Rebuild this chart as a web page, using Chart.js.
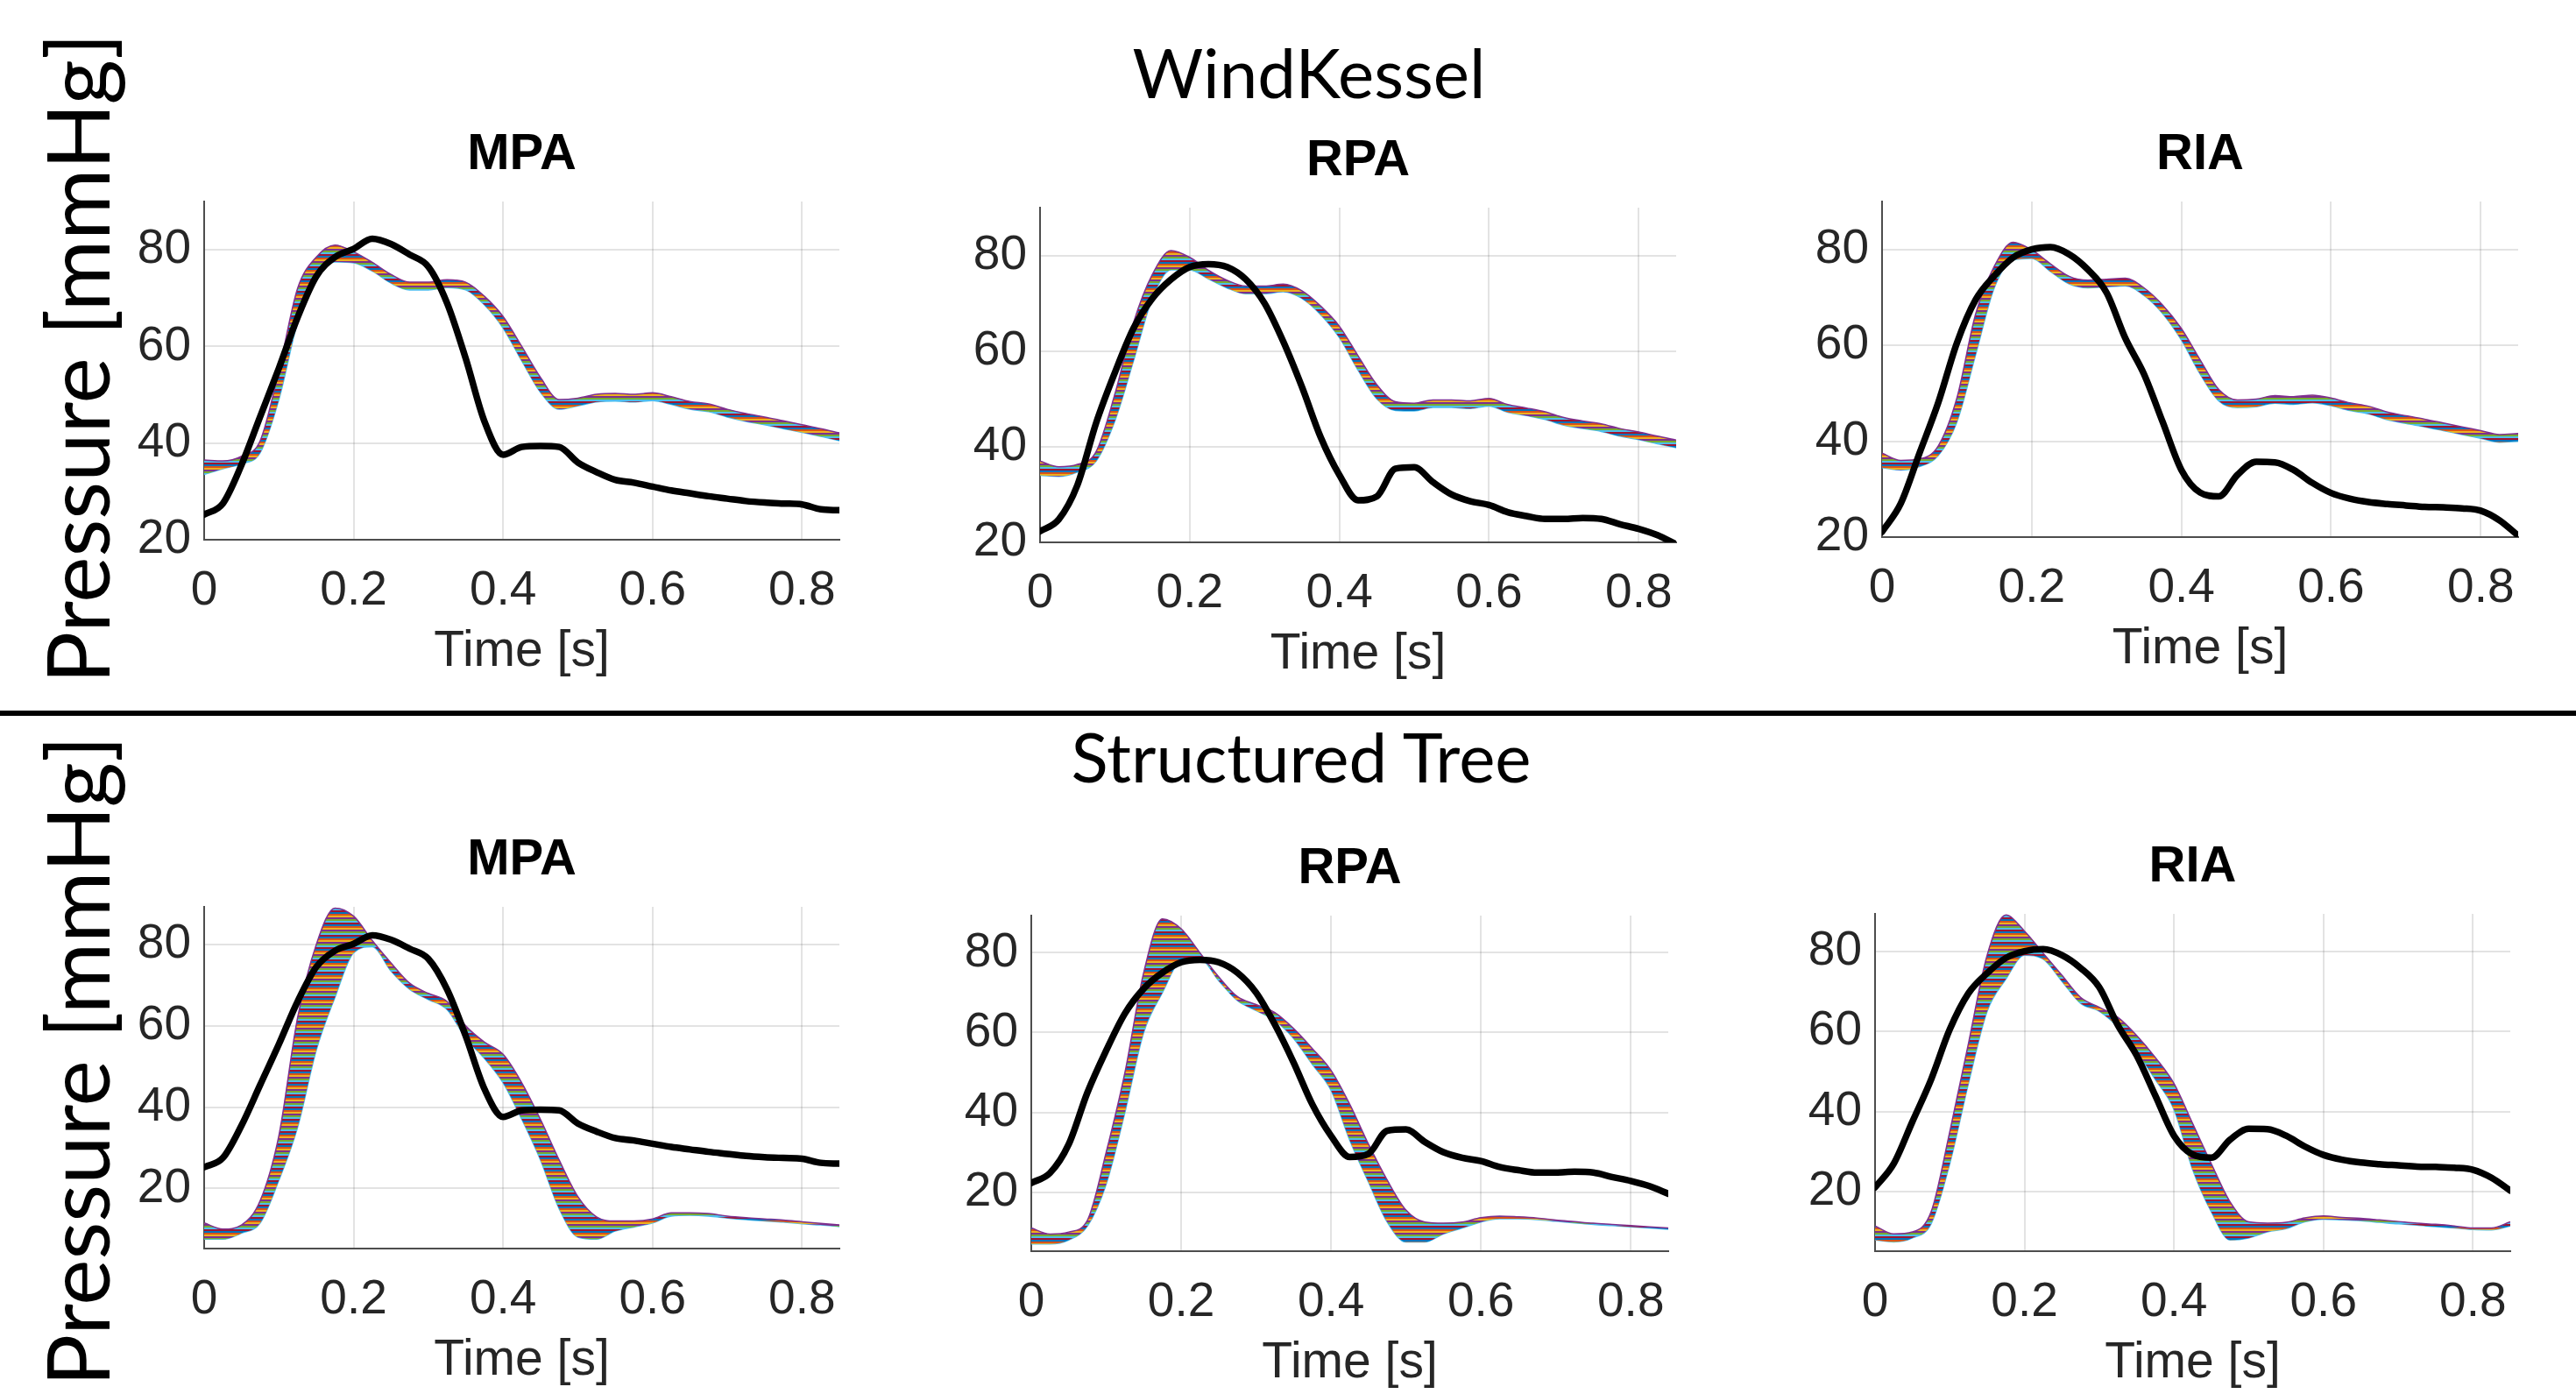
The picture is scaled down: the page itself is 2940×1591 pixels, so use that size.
<!DOCTYPE html>
<html>
<head>
<meta charset="utf-8">
<script src="https://cdn.jsdelivr.net/npm/chart.js@4.4.1/dist/chart.umd.min.js"></script>
<style>
  html, body { margin: 0; padding: 0; background: #fff; }
  body { width: 2940px; height: 1591px; position: relative; overflow: hidden; }
  canvas { position: absolute; }
  .lbl { position: absolute; font-family: Lato, "Open Sans", sans-serif; color: #000; line-height: 1; white-space: nowrap; }
</style>
</head>
<body>
<div class="lbl" style="left:1494px; top:82px; font-size:78px; transform:translate(-50%,-50%)">WindKessel</div>
<div class="lbl" style="left:1485px; top:863px; font-size:78px; transform:translate(-50%,-50%)">Structured Tree</div>
<div class="lbl" style="left:86px; top:409px; font-size:99px; transform:translate(-50%,-50%) rotate(-90deg)">Pressure [mmHg]</div>
<div class="lbl" style="left:86px; top:1211px; font-size:99px; transform:translate(-50%,-50%) rotate(-90deg)">Pressure [mmHg]</div>
<div style="position:absolute; left:0; top:811px; width:2940px; height:6px; background:#000"></div>

<canvas id="c0"></canvas>
<canvas id="c1"></canvas>
<canvas id="c2"></canvas>
<canvas id="c3"></canvas>
<canvas id="c4"></canvas>
<canvas id="c5"></canvas>

<script>
// time grid [s]
var TIME = [0, 0.025, 0.05, 0.075, 0.1, 0.125, 0.15, 0.175, 0.2, 0.225, 0.25, 0.275, 0.3, 0.325, 0.35,
            0.375, 0.4, 0.425, 0.45, 0.475, 0.5, 0.525, 0.55, 0.575, 0.6, 0.625, 0.65, 0.675, 0.7,
            0.725, 0.75, 0.775, 0.8, 0.825, 0.85];

var X_TICKS = [0, 0.2, 0.4, 0.6, 0.8];
var X_LABELS = ['0', '0.2', '0.4', '0.6', '0.8'];
var Y_TICKS = [20, 40, 60, 80];
var Y_LABELS = ['20', '40', '60', '80'];

// measured pressure (black)
var MPA_DATA = [25.2, 27.5, 35.5, 45.5, 55.5, 66, 74.5, 78.5, 80.2, 82.3, 81.2, 79, 76.5, 69, 57.5,
                44.5, 37.6, 39.2, 39.4, 39.2, 36, 34, 32.4, 31.8, 31, 30.2, 29.6, 29, 28.5,
                28, 27.7, 27.5, 27.3, 26.3, 26.1];
var RPA_DATA = [22.3, 24.8, 32, 45, 55.5, 64.8, 71, 75, 77.6, 78.2, 77.6, 75, 70, 62, 52.5,
                42, 34.1, 28.8, 29.6, 35.4, 35.7, 32.6, 30, 28.6, 27.8, 26.3, 25.5, 24.9, 24.9,
                25.1, 24.9, 23.8, 22.8, 21.5, 19.6];
var RIA_DATA = [21.1, 27, 37.5, 48, 60.5, 69.5, 74.5, 78.3, 80, 80.5, 79, 75.8, 71, 61.5, 54,
                44, 34, 29.3, 28.5, 33, 35.7, 35.6, 34, 31.3, 29.2, 28, 27.3, 26.9, 26.6,
                26.3, 26.2, 26, 25.5, 23.5, 20.3];

// WindKessel simulations: upper / lower envelope
var WK_MPA_HI = [36.5, 36.3, 37.3, 40.5, 55, 72, 78.5, 81, 79.6, 77.4, 74.9, 73.3, 73.3, 73.8, 73.3,
                 70.4, 66.2, 60, 53.6, 49, 49.3, 50.1, 50.3, 50.1, 50.4, 49.6, 48.6, 48.1, 47,
                 46.1, 45.4, 44.6, 43.8, 43, 42.1];
var WK_MPA_LO = [33.5, 34.7, 35.7, 38, 49, 65, 75, 77.5, 77.3, 75.6, 73.1, 71.7, 71.7, 72.2, 71.7,
                 68.6, 63.8, 57, 50.5, 47, 47.7, 48.5, 48.7, 48.5, 48.8, 48, 47, 46.5, 45.4,
                 44.5, 43.8, 43, 42.2, 41.4, 40.5];
var WK_RPA_HI = [37, 35.8, 36.3, 39, 51, 66, 76, 81, 79.6, 76.9, 74.8, 73.6, 73.6, 74, 72.6,
                 69.4, 65.2, 59, 53, 49.4, 49.1, 49.8, 49.8, 49.6, 50.1, 48.8, 48.1, 47.3, 46.1,
                 45.4, 44.8, 43.8, 43.1, 42.2, 41.4];
var WK_RPA_LO = [34, 33.8, 34.7, 37, 45.4, 58, 71, 77, 77, 75.1, 73.2, 72, 72, 72.4, 71,
                 67.6, 62.8, 56, 50, 47.6, 47.5, 48.2, 48.2, 48, 48.5, 47.2, 46.5, 45.7, 44.5,
                 43.8, 43.2, 42.2, 41.5, 40.6, 39.8];
var WK_RIA_HI = [37.5, 36, 36.3, 39, 49, 66.5, 76.5, 81.5, 79.9, 77, 74.4, 73.6, 73.8, 74, 72,
                 68.4, 63.5, 57, 50.8, 48.6, 48.8, 49.5, 49.3, 49.6, 49, 48, 47.3, 46.1, 45.3,
                 44.6, 43.8, 43, 42.2, 41.4, 41.6];
var WK_RIA_LO = [34.5, 34, 34.7, 37, 44, 58, 72, 77.8, 78.1, 75.4, 72.8, 72, 72.2, 72.4, 70.4,
                 66.6, 61.1, 54, 48.4, 47, 47.2, 47.9, 47.7, 48, 47.4, 46.4, 45.7, 44.5, 43.7,
                 43, 42.2, 41.4, 40.6, 39.8, 40];

// Structured Tree simulations: upper / lower envelope
var ST_MPA_HI = [11.5, 10, 11, 17, 33, 62, 80, 89, 87, 81, 75.5, 70.5, 68, 66, 60,
                 56, 53, 46, 37, 27, 18, 13, 12, 12, 12.5, 14, 14, 13.8, 13.2,
                 12.8, 12.5, 12.2, 11.8, 11.4, 11];
var ST_MPA_LO = [7.5, 7.5, 9, 11.5, 22, 35, 54, 67, 78, 79.5, 73.5, 69, 66.5, 64, 57,
                 52, 46, 37, 27, 15, 8, 7.5, 9.5, 10.5, 11.5, 13.2, 13.4, 13.2, 12.7,
                 12.3, 12, 11.7, 11.3, 11, 10.6];
var ST_RPA_HI = [11, 9.5, 10, 13, 30, 50, 75, 88.5, 86, 80, 74, 69, 67, 65, 61,
                 56, 50.5, 42, 32, 23, 15.5, 12.5, 12.2, 12.5, 13.6, 14, 13.8, 13.5, 13,
                 12.6, 12.2, 11.9, 11.6, 11.3, 11];
var ST_RPA_LO = [7, 7, 8, 11.5, 22, 40, 60, 70, 78, 78.5, 73, 68, 65.5, 63, 58.5,
                 52, 45.5, 33, 22.5, 12.5, 7.5, 7.5, 9.5, 11, 12.5, 13.3, 13.3, 13.1, 12.7,
                 12.3, 11.9, 11.6, 11.3, 11, 10.7];
var ST_RIA_HI = [11.5, 9.5, 10, 15, 35, 57, 79, 89, 85, 79.5, 74, 68.5, 66, 63.5, 59,
                 53.5, 47, 37, 27, 17.5, 12.5, 12.2, 12.4, 13.5, 14, 13.6, 13.4, 13, 12.6,
                 12.2, 11.9, 11.5, 11, 11, 12.5];
var ST_RIA_LO = [8, 7.5, 8.5, 12, 27, 47, 65, 73, 79, 78, 72.5, 67, 65, 61, 55,
                 48, 40.5, 25.5, 15, 8, 8.5, 10, 10.8, 12.5, 13.2, 13, 12.8, 12.4, 12,
                 11.7, 11.3, 11, 10.6, 10.5, 11.5];

// matlab line colours, used as a striped fill for the simulation bands
var LINE_COLORS = ['#0072BD', '#D95319', '#EDB120', '#7E2F8E', '#77AC30', '#4DBEEE', '#A2142F'];
var tile = document.createElement('canvas');
tile.width = 4; tile.height = 14;
var tctx = tile.getContext('2d');
LINE_COLORS.forEach(function(c, i) {
    tctx.fillStyle = c;
    tctx.fillRect(0, i * 2, 4, 2);
});
var stripes = tctx.createPattern(tile, 'repeat');

Chart.defaults.font.family = '"Liberation Sans", Arial, sans-serif';
var GRID = 'rgba(38,38,38,0.13)';
var AXIS = '#262626';
var PAD_L = 130, PAD_T = 120, PAD_R = 30, PAD_B = 170;

var panels = [
    {id: 'c0', title: 'MPA', box: [233, 230, 958, 616], yMin: 20, yMax: 90, p: MPA_DATA, hi: WK_MPA_HI, lo: WK_MPA_LO},
    {id: 'c1', title: 'RPA', box: [1187, 237, 1913, 619], yMin: 20, yMax: 90, p: RPA_DATA, hi: WK_RPA_HI, lo: WK_RPA_LO},
    {id: 'c2', title: 'RIA', box: [2148, 230, 2874, 613], yMin: 20, yMax: 90, p: RIA_DATA, hi: WK_RIA_HI, lo: WK_RIA_LO},
    {id: 'c3', title: 'MPA', box: [233, 1035, 958, 1425], yMin: 5.2, yMax: 89.3, p: MPA_DATA, hi: ST_MPA_HI, lo: ST_MPA_LO},
    {id: 'c4', title: 'RPA', box: [1177, 1045, 1904, 1428], yMin: 5.2, yMax: 89.3, p: RPA_DATA, hi: ST_RPA_HI, lo: ST_RPA_LO},
    {id: 'c5', title: 'RIA', box: [2140, 1043, 2865, 1428], yMin: 5.2, yMax: 89.3, p: RIA_DATA, hi: ST_RIA_HI, lo: ST_RIA_LO}
];

function pts(arr) {
    return TIME.map(function(t, i) { return {x: t, y: arr[i]}; });
}

function makeChart(pn) {
    var L = pn.box[0], T = pn.box[1], R = pn.box[2], B = pn.box[3];
    var cv = document.getElementById(pn.id);
    var w = R - L + PAD_L + PAD_R, h = B - T + PAD_T + PAD_B;
    cv.width = w; cv.height = h;
    cv.style.left = (L - PAD_L) + 'px';
    cv.style.top = (T - PAD_T) + 'px';
    cv.style.width = w + 'px';
    cv.style.height = h + 'px';

    new Chart(cv, {
        type: 'line',
        data: {
            datasets: [
                {data: pts(pn.p), borderColor: '#000', borderWidth: 7.5, borderJoinStyle: 'round', borderCapStyle: 'round', fill: false},
                {data: pts(pn.hi), borderColor: '#7E2F8E', borderWidth: 1.5, backgroundColor: stripes, fill: '+1'},
                {data: pts(pn.lo), borderColor: '#4DBEEE', borderWidth: 1.5, fill: false}
            ]
        },
        options: {
            responsive: false,
            animation: false,
            devicePixelRatio: 1,
            layout: {padding: {left: 0, top: 0, right: PAD_R, bottom: 0}},
            elements: {
                point: {radius: 0},
                line: {cubicInterpolationMode: 'monotone'}
            },
            plugins: {
                legend: {display: false},
                tooltip: {enabled: false},
                title: {
                    display: true,
                    fullSize: false,
                    text: pn.title,
                    color: '#000',
                    font: {size: 58, weight: 'bold', lineHeight: 1},
                    padding: {top: 37.5, bottom: 24.5}
                }
            },
            scales: {
                x: {
                    type: 'linear',
                    min: 0,
                    max: 0.85,
                    afterFit: function(s) { s.height = PAD_B; },
                    afterBuildTicks: function(s) { s.ticks = X_TICKS.map(function(v) { return {value: v}; }); },
                    ticks: {
                        callback: function(v, i) { return X_LABELS[i]; },
                        color: AXIS,
                        font: {size: 55},
                        padding: 26,
                        maxRotation: 0,
                        autoSkip: false
                    },
                    grid: {color: GRID, lineWidth: 2, drawTicks: false},
                    border: {color: '#4d4d4d', width: 2},
                    title: {
                        display: true,
                        text: 'Time [s]',
                        color: AXIS,
                        font: {size: 57, lineHeight: 1.2},
                        padding: {top: 0, bottom: 8}
                    }
                },
                y: {
                    min: pn.yMin,
                    max: pn.yMax,
                    afterFit: function(s) { s.width = PAD_L; },
                    afterBuildTicks: function(s) { s.ticks = Y_TICKS.map(function(v) { return {value: v}; }); },
                    ticks: {
                        callback: function(v, i) { return Y_LABELS[i]; },
                        color: AXIS,
                        font: {size: 55},
                        padding: 15
                    },
                    grid: {color: GRID, lineWidth: 2, drawTicks: false},
                    border: {color: '#4d4d4d', width: 2}
                }
            }
        }
    });
}

panels.forEach(makeChart);
</script>
</body>
</html>
